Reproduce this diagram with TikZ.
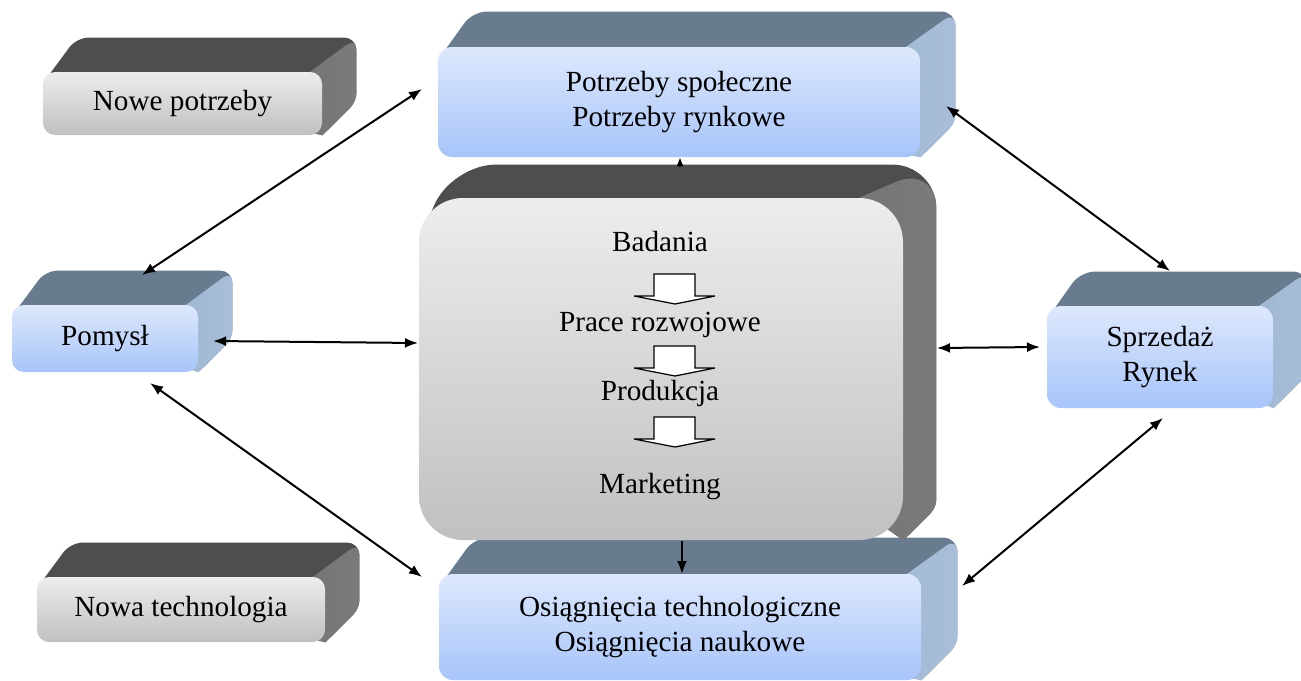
\documentclass[tikz,border=0pt]{standalone}
\usepackage{fontspec}
\setmainfont{Liberation Serif}
\usetikzlibrary{arrows.meta,calc}
\pgfdeclarelayer{canvas}
\pgfdeclarelayer{background}
\pgfsetlayers{canvas,background,main}
\definecolor{bluefronttop}{HTML}{DDE8FC}
\definecolor{bluefrontbot}{HTML}{A7C4FA}
\definecolor{bluetop}{HTML}{687B8F}
\definecolor{blueside}{HTML}{94ADC8}
\definecolor{bluesidelight}{HTML}{A8BED8}
\definecolor{grayfronttop}{HTML}{EDEDED}
\definecolor{grayfrontbot}{HTML}{C0C0C0}
\definecolor{graytop}{HTML}{4E4E4E}
\definecolor{grayside}{HTML}{6C6C6C}
\definecolor{graysidelight}{HTML}{7A7A7A}
\tikzset{
  lbl/.style={font=\fontsize{14.6}{17.5}\selectfont, align=center, text=black},
  blue front/.style={lbl, top color=bluefronttop, bottom color=bluefrontbot, draw=none},
  blue top/.style={fill=bluetop},
  blue side/.style={left color=blueside, right color=bluesidelight},
  gray front/.style={lbl, top color=grayfronttop, bottom color=grayfrontbot, draw=none},
  gray top/.style={fill=graytop},
  gray side/.style={left color=grayside, right color=graysidelight},
  link/.style={line width=1pt, {Latex[length=6.5pt,width=5pt]}-{Latex[length=6.5pt,width=5pt]}},
  onelink/.style={line width=1pt, -{Latex[length=6.5pt,width=5pt]}},
  smalllink/.style={line width=1pt, -{Latex[length=4.5pt,width=3.5pt]}},
  blockarrow/.style={fill=white, draw=black, line width=0.6pt, line join=miter},
}
% #1 name, #2 centre, #3 width px, #4 height px, #5 depth px, #6 kind, #7 corner radius, #8 text
\newcommand\boxthreed[8]{%
  \node[#6 front, rounded corners=#7, minimum width={#3*0.5pt}, minimum height={#4*0.5pt}, inner sep=0pt] (#1) at (#2) {#8};
  \begin{pgfonlayer}{background}
    \fill[#6 top] ([yshift=-#7]#1.north west) [rounded corners=#7] -- ([shift={(#5,-#5)}]#1.north west) -- ([shift={(#5,-#5)}]#1.north east) [rounded corners=4pt] -- ([shift={(#5,-#5)}]#1.south east) -- (#1.south east) -- (#1.center) -- cycle;
    \shade[#6 side] ([xshift=-#7]#1.north east) [rounded corners=#7] -- ([shift={(#5,-#5)}]#1.north east) [rounded corners=4pt] -- ([shift={(#5,-#5)}]#1.south east) [sharp corners] -- (#1.south east) -- (#1.center) -- cycle;
  \end{pgfonlayer}
}
\begin{document}
\begin{tikzpicture}[x=0.5pt,y=-0.5pt]
\useasboundingbox (0,0) rectangle (1301,680);
\begin{pgfonlayer}{canvas}
\fill[white] (0,0) rectangle (1301,680);
\end{pgfonlayer}

\boxthreed{np}{182.5,103.5}{279}{63}{34}{gray}{6pt}{Nowe potrzeby}
\boxthreed{pot}{679,102}{482}{110}{35}{blue}{7pt}{Potrzeby społeczne\\Potrzeby rynkowe}
\boxthreed{pom}{105,338.5}{186}{67}{34}{blue}{6pt}{Pomysł}
\boxthreed{spr}{1160,357}{226}{102}{34}{blue}{7pt}{Sprzedaż\\Rynek}
\boxthreed{osi}{680,627}{482}{106}{36}{blue}{7pt}{Osiągnięcia technologiczne\\Osiągnięcia naukowe}
\boxthreed{nt}{181,609.5}{288}{65}{34}{gray}{6pt}{Nowa technologia}
\boxthreed{cen}{661,369}{484}{342}{33}{gray}{22pt}{}

% centre labels
\node[lbl] (t1) at (660,242) {Badania};
\node[lbl] (t2) at (660,325) {Prace rozwojowe};
\node[lbl] (t3) at (660,393) {Produkcja};
\node[lbl] (t4) at (660,487) {Marketing};

% block arrows
\foreach \ya/\yb/\yc in {274/296/304, 346/368/376, 417/439/447}{
  \draw[blockarrow] (654,\ya) -- (695,\ya) -- (695,\yb) -- (715,\yb) -- (675,\yc) -- (634,\yb) -- (654,\yb) -- cycle;
}

% connector end points
\coordinate (pomT) at (142,275);
\coordinate (potL) at (422,89);
\coordinate (pomR) at (213,341);
\coordinate (cenL) at (418,343);
\coordinate (pomB) at (150,383);
\coordinate (osiL) at (422,577);
\coordinate (potR) at (946,106);
\coordinate (sprT) at (1170,271);
\coordinate (cenR) at (937,348);
\coordinate (sprL) at (1040,347);
\coordinate (sprB) at (1163,418);
\coordinate (osiR) at (962,586);
\coordinate (cenT) at (680,167);
\coordinate (potB) at (680,157);
\coordinate (cenB) at (682,541);
\coordinate (osiT) at (682,574);

\draw[link] (pomT) -- (potL);
\draw[link] (pomR) -- (cenL);
\draw[link] (pomB) -- (osiL);
\draw[link] (potR) -- (sprT);
\draw[link] (cenR) -- (sprL);
\draw[link] (sprB) -- (osiR);
\draw[smalllink] (cenT) -- (potB);
\draw[onelink] (cenB) -- (osiT);
\end{tikzpicture}
\end{document}
